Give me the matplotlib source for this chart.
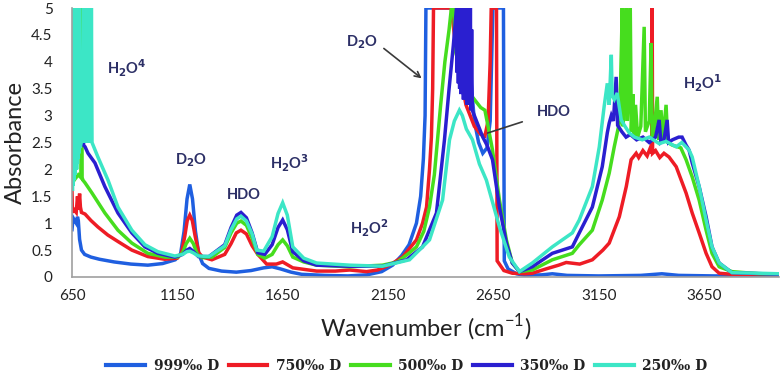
import matplotlib
matplotlib.use("Agg")
import matplotlib.pyplot as plt

# (wavenumber, absorbance) pairs
wn_999 = [650, 655, 662, 670, 676, 680, 686, 695, 710, 740, 780, 850, 930, 1010, 1080, 1140, 1165, 1182,
          1196, 1209, 1222, 1236, 1252, 1270, 1300, 1360, 1430, 1500, 1560, 1600, 1640, 1690, 1740, 1850,
          1960, 2050, 2120, 2172, 2215, 2250, 2285, 2305, 2318, 2326, 2330, 2530, 2545, 2560, 2580, 2600,
          2620, 2635, 2648, 2698, 2702, 2720, 2760, 2800, 2880, 2930, 3000, 3150, 3350, 3450, 3530, 3700, 4006]
a_999 = [0.88, 1.1, 1.05, 1.0, 1.12, 1.05, 0.7, 0.5, 0.42, 0.37, 0.33, 0.28, 0.24, 0.22, 0.25, 0.32, 0.42, 0.85,
         1.45, 1.72, 1.45, 0.85, 0.42, 0.25, 0.16, 0.11, 0.09, 0.12, 0.17, 0.19, 0.15, 0.09, 0.05, 0.03,
         0.02, 0.04, 0.1, 0.22, 0.4, 0.6, 1.0, 1.5, 2.2, 3.0, 5.0, 5.0, 3.6, 2.9, 2.5, 2.3,
         2.4, 2.9, 5.0, 5.0, 0.3, 0.15, 0.06, 0.03, 0.04, 0.06, 0.03, 0.02, 0.03, 0.06, 0.03, 0.02, 0.02]

wn_750 = [650, 652, 660, 670, 676, 680, 686, 690, 695, 712, 740, 773, 820, 868, 934, 1010, 1090, 1150, 1170,
          1185, 1197, 1209, 1221, 1235, 1252, 1270, 1314, 1375, 1405, 1430, 1452, 1478, 1505, 1532, 1574,
          1620, 1650, 1698, 1811, 1900, 1968, 2048, 2100, 2157, 2219, 2285, 2314, 2333, 2347, 2356, 2362,
          2366, 2450, 2480, 2520, 2560, 2590, 2610, 2625, 2635, 2640, 2665, 2668, 2700, 2740, 2800, 2835,
          2900, 2960, 2996, 3060, 3120, 3170, 3200, 3248, 3281, 3304, 3328, 3340, 3360, 3380, 3395, 3402,
          3404, 3406, 3420, 3440, 3460, 3484, 3518, 3565, 3594, 3627, 3660, 3688, 3722, 3783, 4006]
a_750 = [1.58, 1.2, 1.25, 1.2, 1.5, 1.25, 1.55, 1.3, 1.2, 1.17, 1.05, 0.93, 0.78, 0.66, 0.5, 0.38, 0.33, 0.35, 0.45,
         0.75, 1.05, 1.15, 1.05, 0.75, 0.45, 0.37, 0.32, 0.42, 0.62, 0.82, 0.87, 0.8, 0.58, 0.42, 0.24,
         0.24, 0.28, 0.17, 0.11, 0.11, 0.13, 0.1, 0.13, 0.22, 0.37, 0.69, 1.0, 1.3, 2.0, 2.6, 3.5,
         5.0, 5.0, 4.0, 3.2, 2.8, 2.65, 2.62, 2.9, 4.0, 5.0, 5.0, 0.3, 0.12, 0.07, 0.06, 0.07,
         0.15, 0.22, 0.27, 0.24, 0.32, 0.5, 0.63, 1.12, 1.68, 2.18, 2.3, 2.22, 2.35, 2.25, 2.4, 2.3,
         5.0, 2.3, 2.35, 2.22, 2.3, 2.23, 2.05, 1.56, 1.19, 0.82, 0.44, 0.19, 0.07, 0.05, 0.04]

wn_500 = [650, 660, 670, 680, 692, 696, 698, 702, 712, 745, 806, 868, 934, 1010, 1091, 1152, 1175, 1192, 1209,
          1226, 1245, 1266, 1314, 1375, 1405, 1432, 1452, 1478, 1505, 1532, 1565, 1600, 1628, 1650, 1672,
          1698, 1750, 1811, 1968, 2124, 2195, 2252, 2285, 2320, 2347, 2370, 2385, 2400, 2420, 2440, 2451,
          2462, 2470, 2490, 2510, 2530, 2550, 2570, 2590, 2610, 2625, 2646, 2679, 2712, 2740, 2774, 2835,
          2930, 3025, 3058, 3120, 3167, 3200, 3224, 3238, 3250, 3262, 3266, 3272, 3281, 3286, 3292, 3300,
          3305, 3312, 3318, 3325, 3335, 3350, 3366, 3372, 3390, 3399, 3404, 3410, 3428, 3435, 3446, 3455,
          3470, 3478, 3500, 3540, 3565, 3594, 3627, 3660, 3688, 3722, 3783, 3911, 4006]
a_500 = [1.72, 1.8, 1.85, 1.9, 1.85, 5.0, 1.85, 1.8, 1.75, 1.56, 1.19, 0.87, 0.63, 0.44, 0.37, 0.37, 0.45, 0.62, 0.72,
         0.62, 0.42, 0.36, 0.37, 0.55, 0.82, 1.0, 1.04, 0.96, 0.72, 0.42, 0.35, 0.42, 0.6, 0.69, 0.58,
         0.37, 0.28, 0.22, 0.19, 0.22, 0.28, 0.45, 0.56, 0.85, 1.3, 1.9, 2.55, 3.2, 4.0, 4.6, 5.0,
         5.0, 4.2, 3.9, 3.6, 3.5, 3.35, 3.25, 3.15, 3.1, 2.8, 2.36, 1.43, 0.69, 0.26, 0.1, 0.13,
         0.32, 0.44, 0.6, 0.87, 1.43, 1.93, 2.42, 2.68, 2.9, 5.0, 2.8, 3.3, 5.0, 2.9, 3.4, 5.0,
         2.7, 3.4, 2.6, 3.2, 2.6, 2.8, 4.65, 2.7, 2.9, 4.35, 2.6, 2.6, 3.35, 2.55, 3.1, 2.55,
         3.2, 2.5, 2.45, 2.4, 2.18, 1.86, 1.43, 0.87, 0.44, 0.19, 0.1, 0.06, 0.05]

wn_350 = [650, 670, 690, 700, 702, 705, 712, 726, 759, 806, 868, 934, 996, 1058, 1138, 1175, 1195, 1209, 1225,
          1250, 1300, 1375, 1405, 1432, 1452, 1478, 1505, 1532, 1565, 1600, 1628, 1650, 1672, 1698, 1750,
          1811, 1968, 2124, 2238, 2314, 2380, 2418, 2440, 2460, 2475, 2478, 2481, 2484, 2487, 2490, 2493,
          2496, 2499, 2502, 2505, 2508, 2511, 2514, 2517, 2520, 2523, 2526, 2529, 2532, 2535, 2538, 2541,
          2544, 2547, 2550, 2570, 2600, 2620, 2646, 2679, 2712, 2740, 2774, 2835, 2930, 3025, 3058, 3120,
          3167, 3191, 3200, 3210, 3220, 3233, 3240, 3260, 3280, 3300, 3330, 3360, 3390, 3420, 3437, 3445,
          3460, 3475, 3482, 3500, 3530, 3546, 3565, 3579, 3594, 3627, 3660, 3688, 3722, 3783, 4006]
a_350 = [2.2, 2.4, 2.5, 2.6, 3.42, 2.45, 2.42, 2.3, 2.12, 1.68, 1.19, 0.82, 0.56, 0.44, 0.37, 0.42, 0.5, 0.53, 0.48,
         0.38, 0.38, 0.6, 0.92, 1.15, 1.2, 1.1, 0.82, 0.45, 0.42, 0.6, 0.92, 1.06, 0.88, 0.47, 0.3,
         0.22, 0.2, 0.2, 0.32, 0.56, 1.19, 2.55, 3.5, 4.3, 5.0, 3.8, 5.0, 3.6, 5.0, 3.5, 5.0,
         3.4, 5.0, 3.5, 5.0, 3.3, 5.0, 3.4, 5.0, 3.3, 5.0, 3.2, 5.0, 3.3, 5.0, 3.2, 5.0,
         3.1, 4.6, 3.1, 2.9, 2.6, 2.45, 2.18, 1.3, 0.63, 0.26, 0.1, 0.19, 0.44, 0.56, 0.82, 1.3,
         2.05, 2.68, 2.86, 3.0, 2.9, 3.72, 2.82, 2.7, 2.6, 2.65, 2.55, 2.6, 2.5, 2.6, 2.92, 2.5,
         2.55, 2.92, 2.5, 2.55, 2.6, 2.6, 2.45, 2.36, 2.12, 1.68, 1.12, 0.56, 0.26, 0.08, 0.05]

wn_250 = [650, 652, 654, 656, 658, 660, 662, 664, 666, 668, 670, 672, 674, 676, 678, 680, 682, 684, 686, 688,
          700, 706, 708, 710, 712, 714, 716, 718, 720, 722, 724, 726, 728, 730, 732, 734, 736, 738, 740, 742,
          745, 773, 821, 868, 934, 996, 1058, 1138, 1175, 1195, 1209, 1225, 1250, 1300, 1375, 1405, 1432,
          1452, 1478, 1505, 1527, 1560, 1600, 1628, 1650, 1672, 1698, 1750, 1811, 1968, 2124, 2252, 2347,
          2409, 2442, 2465, 2489, 2503, 2522, 2551, 2584, 2617, 2679, 2726, 2774, 2835, 2930, 3025, 3058,
          3120, 3153, 3176, 3191, 3200, 3210, 3214, 3224, 3238, 3257, 3275, 3295, 3320, 3357, 3390, 3437,
          3470, 3518, 3545, 3579, 3594, 3627, 3660, 3688, 3722, 3783, 3911, 4006]
a_250 = [5.0, 1.6, 5.0, 1.7, 5.0, 1.8, 5.0, 1.9, 5.0, 2.0, 5.0, 2.0, 5.0, 2.1, 5.0, 2.2, 5.0, 2.3, 5.0, 2.4,
         2.6, 5.0, 2.5, 5.0, 2.5, 5.0, 2.5, 5.0, 2.5, 5.0, 2.5, 5.0, 2.5, 5.0, 2.5, 5.0, 2.5, 5.0, 2.5, 5.0,
         2.5, 2.23, 1.8, 1.3, 0.87, 0.6, 0.47, 0.39, 0.42, 0.47, 0.48, 0.45, 0.39, 0.38, 0.58, 0.88, 1.08,
         1.13, 1.04, 0.8, 0.5, 0.48, 0.75, 1.18, 1.38, 1.15, 0.56, 0.35, 0.26, 0.22, 0.2, 0.32, 0.69,
         1.43, 2.55, 2.9, 3.1, 3.0, 2.75, 2.55, 2.1, 1.8, 0.93, 0.37, 0.1, 0.26, 0.56, 0.82, 1.06,
         1.68, 2.42, 3.17, 3.6, 3.2, 4.13, 3.37, 3.3, 3.42, 2.92, 2.8, 2.68, 2.6, 2.55, 2.6, 2.48,
         2.52, 2.42, 2.5, 2.36, 2.23, 1.68, 1.06, 0.56, 0.26, 0.08, 0.07, 0.06]

series = [("999‰ D", wn_999, a_999, "#1F5FE0"),
          ("750‰ D", wn_750, a_750, "#EE1C25"),
          ("500‰ D", wn_500, a_500, "#46DD1E"),
          ("350‰ D", wn_350, a_350, "#2A1FD0"),
          ("250‰ D", wn_250, a_250, "#3CE6C6")]

x_ticks = [650, 1150, 1650, 2150, 2650, 3150, 3650]
y_ticks = [0, 0.5, 1, 1.5, 2, 2.5, 3, 3.5, 4, 4.5, 5]

LABEL_C = "#2C2F66"
plt.rcParams["font.family"] = ["Lato", "DejaVu Sans"]
plt.rcParams["mathtext.default"] = "bf"

fig = plt.figure(figsize=(7.82, 3.79), dpi=100)
ax = fig.add_axes([72 / 782, 1 - 277 / 379, 707 / 782, 269 / 379])

for name, x, y, c in series:
    ax.plot(x, y, color=c, lw=2.5, label=name, solid_joinstyle="miter")

ax.set_xlim(650, 4006)
ax.set_ylim(0, 5)
ax.set_xticks(x_ticks)
ax.set_xticklabels([str(v) for v in x_ticks])
ax.set_yticks(y_ticks)
ax.set_yticklabels([f"{v:g}" for v in y_ticks])
ax.tick_params(length=0, labelsize=11, colors="#222222")
ax.tick_params(axis="y", pad=14)
ax.tick_params(axis="x", pad=9)
ax.spines[["top", "right"]].set_visible(False)
ax.spines[["left", "bottom"]].set_color("#A0A0A0")
ax.spines[["left", "bottom"]].set_linewidth(1.2)
ax.set_ylabel("Absorbance", fontsize=17, labelpad=4, color="#222222")
ax.set_xlabel("Wavenumber (cm$^{\\mathregular{-1}}$)", fontsize=17, labelpad=6, color="#222222")

tkw = dict(fontsize=10.5, fontweight="bold", color=LABEL_C, ha="center", va="center")
ax.text(911, 3.87, "H$_2$O$^4$", **tkw)
ax.text(1214, 2.17, "D$_2$O", **tkw)
ax.text(1465, 1.52, "HDO", **tkw)
ax.text(1683, 2.12, "H$_2$O$^3$", **tkw)
ax.text(2062, 0.91, "H$_2$O$^2$", **tkw)
ax.text(2025, 4.37, "D$_2$O", **tkw)
ax.text(2939, 3.07, "HDO", **tkw)
ax.text(3646, 3.6, "H$_2$O$^1$", **tkw)
ax.annotate("", xy=(2320, 3.66), xytext=(2120, 4.28),
            arrowprops=dict(arrowstyle="->", color="#3A3A3A", lw=1.2))
ax.annotate("", xy=(2610, 2.66), xytext=(2800, 2.9),
            arrowprops=dict(arrowstyle="-", color="#3A3A3A", lw=1.2))

fig.legend(loc="center", bbox_to_anchor=(407 / 782, 1 - 366 / 379), ncol=5, frameon=False,
           prop={"family": "DejaVu Serif", "weight": "bold", "size": 10},
           handlelength=2.8, handletextpad=0.6, columnspacing=0.7, labelcolor="#222222")
for h in fig.legends[0].legend_handles:
    h.set_linewidth(3)

fig.savefig("out.png", dpi=100)
